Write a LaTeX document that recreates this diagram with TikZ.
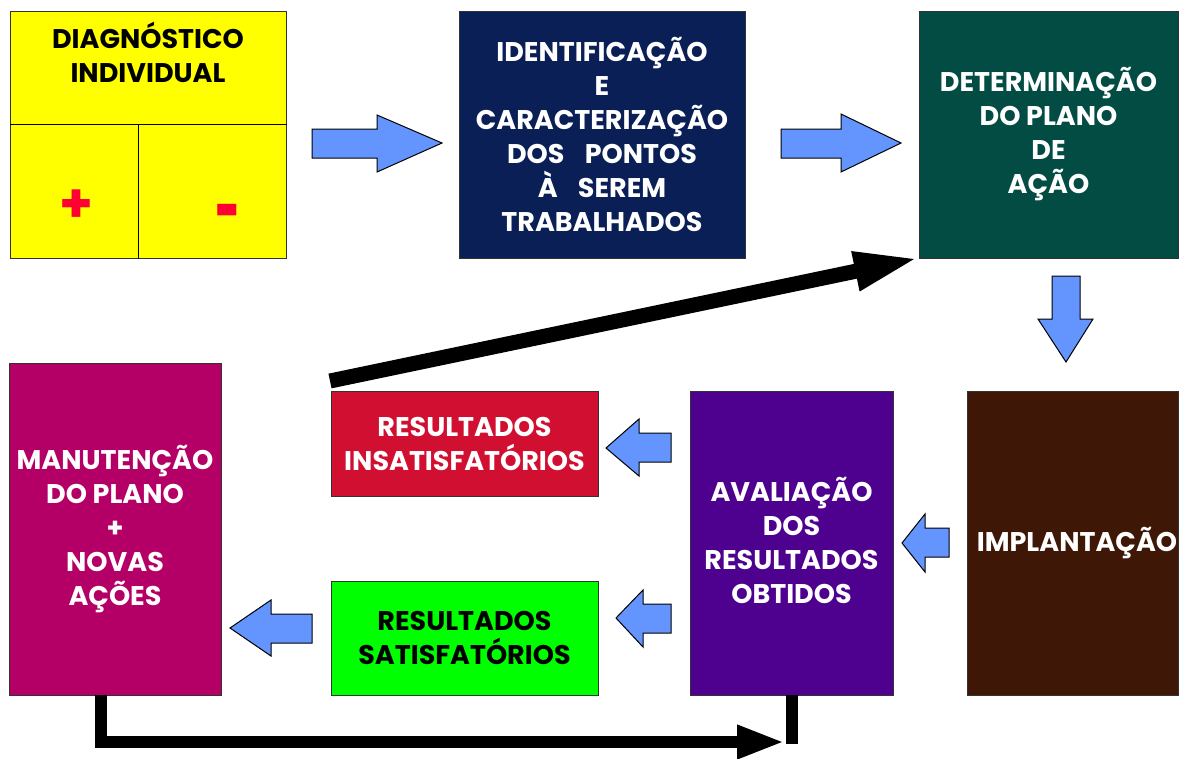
\documentclass[tikz,border=0pt]{standalone}
\usepackage{fontspec}
\setmainfont{Poppins}
\usetikzlibrary{arrows.meta}
\definecolor{yel}{HTML}{FFFF00}
\definecolor{navy}{HTML}{0B1F57}
\definecolor{teal2}{HTML}{024C44}
\definecolor{brown2}{HTML}{3E1706}
\definecolor{purp}{HTML}{4E008E}
\definecolor{redbox}{HTML}{D10F30}
\definecolor{greenbox}{HTML}{00FF00}
\definecolor{mag}{HTML}{B40066}
\definecolor{ablue}{HTML}{6495FF}
\definecolor{plusred}{HTML}{FF0033}
\newcommand{\gapsp}{\hspace{0.75em}}
\begin{document}
\begin{tikzpicture}[x=1pt,y=-1pt,
  box/.style={draw=black!80, line width=0.8pt, inner sep=0pt, outer sep=0pt,
    align=center, text=white, font=\fontsize{27}{34}\selectfont\bfseries},
  lbl/.style={inner sep=0pt, align=center, font=\fontsize{27}{34}\selectfont\bfseries},
  sign/.style={inner sep=0pt, text=plusred, font=\fontsize{54}{54}\selectfont\bfseries},
  blockarrow/.style={fill=ablue, draw=black, line width=1pt, line join=miter},
  blk/.style={draw=black, line join=miter}
]
\useasboundingbox (0,0) rectangle (1186,758);

% boxes
\node[box, fill=yel, minimum width=276pt, minimum height=247pt] (diag) at (148,134.5) {};
\node[lbl, text=black] (diagtxt) at (148,52) {DIAGNÓSTICO\\INDIVIDUAL};
\draw[line width=0.8pt] (10,124) -- (287,124);
\draw[line width=0.8pt] (138,124) -- (138,259);
\node[sign] (plus) at (76,206) {+};
\node[sign, transform shape, xscale=0.8, yscale=1.5] (minus) at (228,221) {-};

\node[box, fill=navy, minimum width=286pt, minimum height=247pt] (ident) at (602,134.5)
  {IDENTIFICAÇÃO\\E\\CARACTERIZAÇÃO\\DOS\gapsp PONTOS\\À\gapsp SEREM\\TRABALHADOS};
\node[box, fill=teal2, minimum width=259pt, minimum height=247pt] (plano) at (1048.5,134.5)
  {DETERMINAÇÃO\\DO PLANO\\DE\\AÇÃO};
\node[box, fill=brown2, minimum width=211pt, minimum height=304pt] (impl) at (1072.5,543) {};
\node[lbl, text=white] (impltxt) at (1077,543) {IMPLANTAÇÃO};
\node[box, fill=purp, minimum width=203pt, minimum height=304pt] (aval) at (791.5,543) {};
\node[lbl, text=white] (avaltxt) at (791.5,540) {AVALIAÇÃO\\DOS\\RESULTADOS\\OBTIDOS};
\node[box, fill=redbox, minimum width=267pt, minimum height=105pt] (insat) at (464.5,443.5)
  {RESULTADOS\\INSATISFATÓRIOS};
\node[box, fill=greenbox, text=black, minimum width=267pt, minimum height=114pt] (sat) at (464.5,638)
  {RESULTADOS\\SATISFATÓRIOS};
\node[box, fill=mag, minimum width=212pt, minimum height=332pt] (mant) at (115,529)
  {MANUTENÇÃO\\DO PLANO\\+\\NOVAS\\AÇÕES};

% block arrows
\draw[blockarrow] (312,129) -- (377,129) -- (377,115) -- (442,143) -- (377,172) -- (377,158) -- (312,158) -- cycle;
\draw[blockarrow] (781,129) -- (841,129) -- (841,114) -- (901,143) -- (841,172) -- (841,158) -- (781,158) -- cycle;
\draw[blockarrow] (1052,276) -- (1080,276) -- (1080,319) -- (1093,319) -- (1066,362) -- (1038,319) -- (1052,319) -- cycle;
\draw[blockarrow] (949,528) -- (925,528) -- (925,514) -- (902,543) -- (925,572) -- (925,557) -- (949,557) -- cycle;
\draw[blockarrow] (671,433) -- (639,433) -- (639,419) -- (606,448) -- (639,476) -- (639,462) -- (671,462) -- cycle;
\draw[blockarrow] (671,604) -- (643,604) -- (643,590) -- (616,618) -- (643,647) -- (643,633) -- (671,633) -- cycle;
\draw[blockarrow] (312,614) -- (271,614) -- (271,600) -- (230,628) -- (271,656) -- (271,643) -- (312,643) -- cycle;

% black connectors
\coordinate (dstart) at (330,381);
\draw[blk, line width=15pt, -{Triangle[length=65pt,width=36pt]}] (dstart) -- (plano.south west);
\coordinate (mstart) at (101,695);
\coordinate (bend) at (785,742);
\draw[blk, line width=12pt, -{Triangle[length=48pt,width=31pt]}] (mstart) |- (bend);
\draw[blk, line width=12pt] (aval.south) -- ++(0,49);
\end{tikzpicture}
\end{document}
